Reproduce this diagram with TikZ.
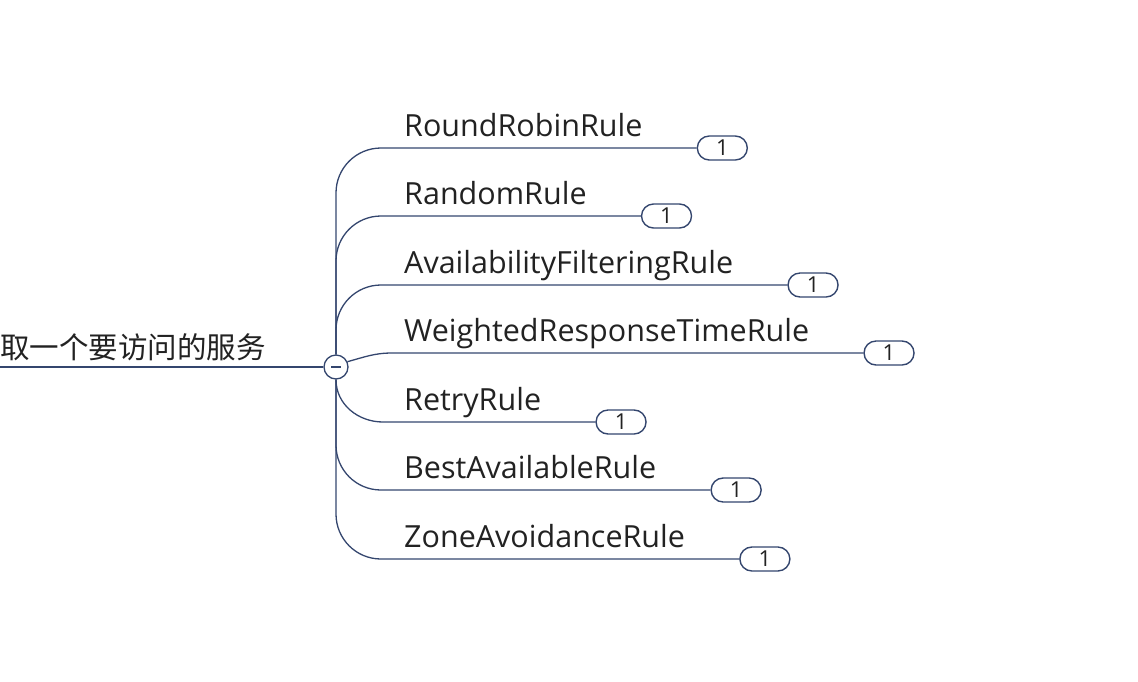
\documentclass[tikz,border=0pt]{standalone}
\usepackage{fontspec}
\setmainfont{Open Sans}
\newfontfamily\cjk{Noto Sans CJK SC}
\usetikzlibrary{calc}

\definecolor{branchblue}{HTML}{34466E}
\definecolor{labelgray}{HTML}{222222}

\tikzset{
  rulelabel/.style={anchor=base west, inner sep=0pt, text=labelgray,
    font=\fontsize{30.5}{36}\selectfont},
  countbadge/.style={draw=branchblue, line width=1.4pt, rounded corners=12pt,
    minimum width=50pt, minimum height=24pt, inner sep=0pt, anchor=west,
    fill=white, text=labelgray, font=\fontsize{22}{24}\selectfont},
  branch/.style={draw=branchblue, line width=1.3pt}
}

\begin{document}
\begin{tikzpicture}[x=1pt,y=-1pt]

  \useasboundingbox (0,0) rectangle (1138,681);

  % root topic and collapse button
  \node[anchor=base west, inner sep=0pt, text=labelgray,
    font=\cjk\fontsize{29.5}{34}\selectfont] (root) at (0,358) {取一个要访问的服务};
  \coordinate (rootend) at (0,367);
  \node[circle, draw=branchblue, line width=1.3pt, minimum size=24pt,
    inner sep=0pt, fill=white] (hub) at (336,367) {};
  \draw[branch] (rootend) -- (hub.west);
  \draw[branch] ([xshift=-5pt]hub.center) -- ([xshift=5pt]hub.center);

  % rule labels and count badges
  \foreach \name/\txt/\y in {rr/RoundRobinRule/148, rand/RandomRule/216,
      avail/AvailabilityFilteringRule/285, wrt/WeightedResponseTimeRule/353,
      retry/RetryRule/422, best/BestAvailableRule/490, zone/ZoneAvoidanceRule/559}
  {
    \node[rulelabel] (\name) at (404,\y-12) {\txt};
    \node[countbadge] (\name-n) at ($(\name.base east)+(54,12)$) {1};
  }

  % branches above the hub
  \foreach \name/\y in {rr/148, rand/216, avail/285}
    \draw[branch] (hub.north) -- (336,\y+45) to[out=90,in=180] (381,\y) -- (\name-n.west);
  \draw[branch] (hub.25) to[out=15,in=180] (392,353) -- (wrt-n.west);

  % branches below the hub
  \draw[branch] (hub.south) to[out=-90,in=180] (383,422) -- (retry-n.west);
  \foreach \name/\y in {best/490, zone/559}
    \draw[branch] (hub.south) -- (336,\y-45) to[out=-90,in=180] (381,\y) -- (\name-n.west);

\end{tikzpicture}
\end{document}
